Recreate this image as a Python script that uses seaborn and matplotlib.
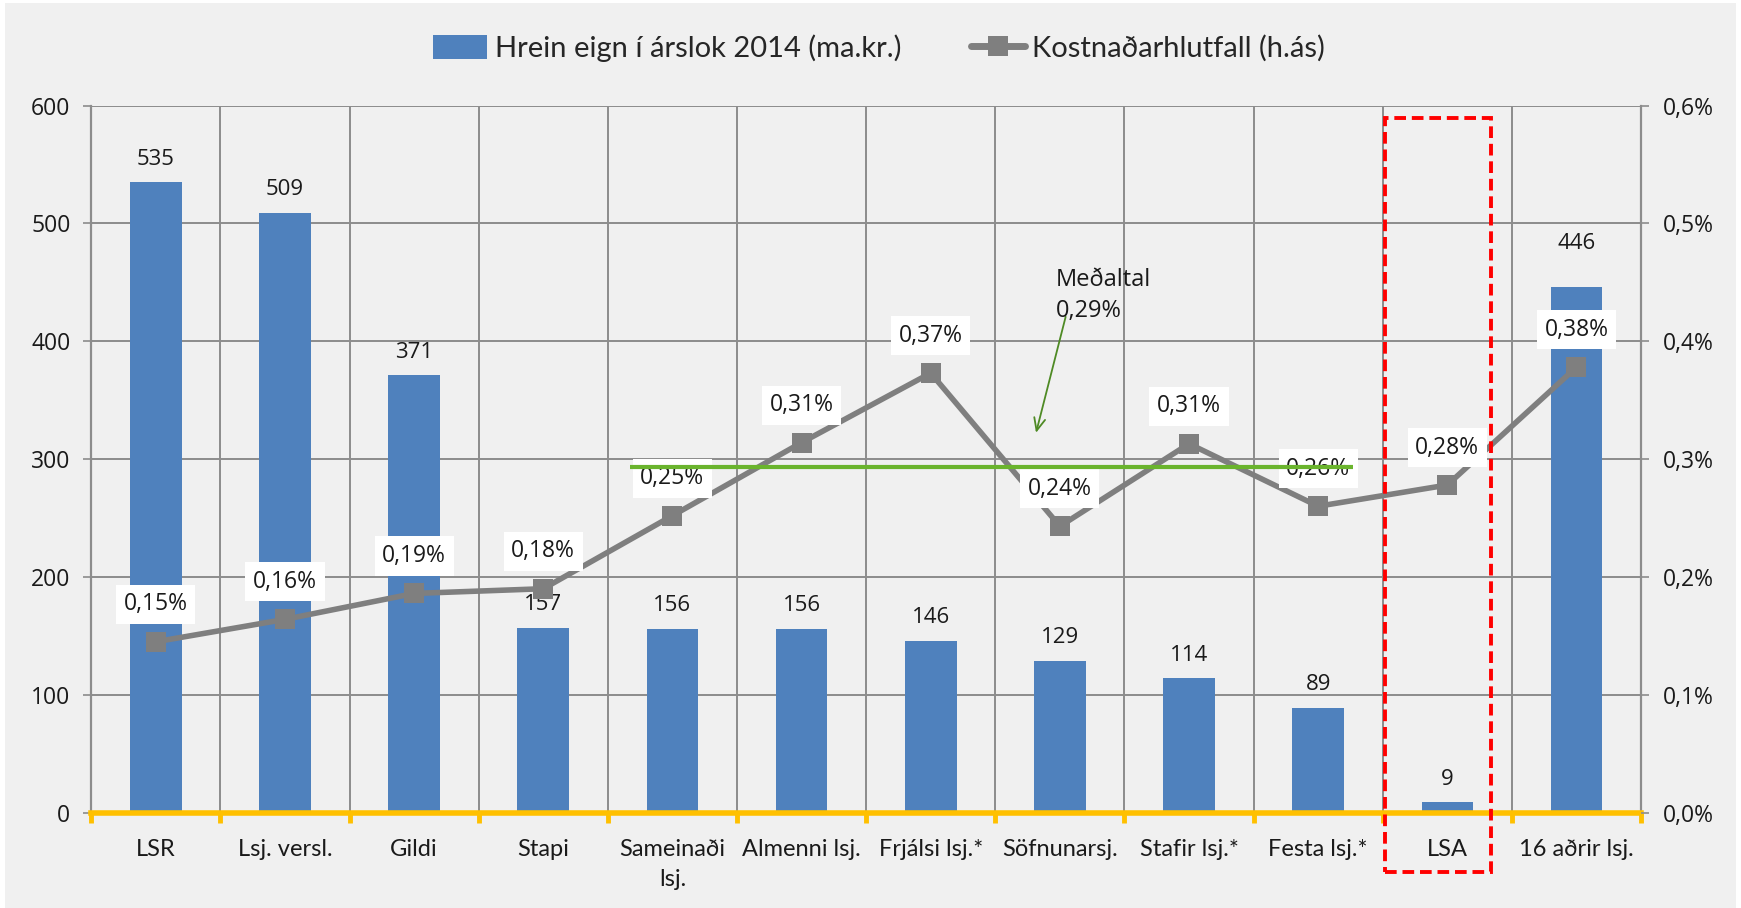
import numpy as np
import pandas as pd
import seaborn as sns
import matplotlib.pyplot as plt
from matplotlib.patches import Rectangle, Patch
from matplotlib.lines import Line2D

funds = ["LSR", "Lsj. versl.", "Gildi", "Stapi", "Sameinaði\nlsj.", "Almenni lsj.",
         "Frjálsi lsj.*", "Söfnunarsj.", "Stafir lsj.*", "Festa lsj.*", "LSA", "16 aðrir lsj."]
net_assets = [535, 509, 371, 157, 156, 156, 146, 129, 114, 89, 9, 446]
cost_ratio = [0.145, 0.164, 0.186, 0.190, 0.252, 0.314, 0.373, 0.243, 0.313, 0.260, 0.278, 0.378]
cost_labels = ["0,15%", "0,16%", "0,19%", "0,18%", "0,25%", "0,31%",
               "0,37%", "0,24%", "0,31%", "0,26%", "0,28%", "0,38%"]
average_ratio = 0.293
left_ticks = [0, 100, 200, 300, 400, 500, 600]
right_ticks = [0.0, 0.1, 0.2, 0.3, 0.4, 0.5, 0.6]
right_tick_labels = ["0,0%", "0,1%", "0,2%", "0,3%", "0,4%", "0,5%", "0,6%"]

BLUE = "#4F81BD"
GREY_LINE = "#7F7F7F"
GRID = "#8C8C8C"
YELLOW = "#FFC000"
GREEN = "#6AB42D"
BG = "#F0F0F0"
TXT = "#1A1A1A"
NUM_FONT = "Open Sans"

sns.set_style("white")
plt.rcParams["font.family"] = ["Open Sans", "DejaVu Sans"]

df = pd.DataFrame({"fund": funds, "assets": net_assets, "ratio": cost_ratio})
x = np.arange(len(funds))

fig = plt.figure(figsize=(17.41, 9.08), dpi=100, facecolor="white")
fig.patches.append(Rectangle((0.003, 0.0), 0.994, 0.997, transform=fig.transFigure,
                             facecolor=BG, edgecolor="none", zorder=-10))
ax = fig.add_axes([0.0524, 0.105, 0.8902, 0.7788])
ax.set_facecolor(BG)

sns.barplot(data=df, x="fund", y="assets", color=BLUE, saturation=1, width=0.4,
            linewidth=0, ax=ax, zorder=2)
bar_texts = ax.bar_label(ax.containers[0], labels=[str(v) for v in net_assets],
                         padding=9, fontsize=16, color=TXT, family=NUM_FONT)
# the last label sits higher so it clears the line label
bar_texts[-1].xyann = (0, 24)

ax.set_xlim(-0.5, len(funds) - 0.5)
ax.set_ylim(0, 600)
ax.set_yticks(left_ticks)
ax.set_yticklabels([str(t) for t in left_ticks], fontsize=16.5, color=TXT, family=NUM_FONT)
ax.set_xticks(x)
ax.set_xticklabels(funds, fontsize=17, family="Lato", color=TXT, linespacing=1.55)
ax.set_xticks(np.arange(-0.5, len(funds), 1), minor=True)
ax.tick_params(axis="x", which="major", bottom=False, length=0, pad=19)
ax.tick_params(axis="x", which="minor", bottom=True, length=7, width=3.5, color=YELLOW,
               direction="out")
ax.tick_params(axis="y", left=True, length=6, width=1.2, color=GRID, pad=9)
ax.set_xlabel("")
ax.set_ylabel("")
ax.grid(axis="y", color=GRID, linewidth=1.4, zorder=0)
ax.grid(axis="x", which="minor", color=GRID, linewidth=1.4, zorder=0)
ax.set_axisbelow(True)
for side in ["left", "right"]:
    ax.spines[side].set_color(GRID)
    ax.spines[side].set_linewidth(1.6)
ax.spines["top"].set_visible(False)
ax.spines["bottom"].set_color(YELLOW)
ax.spines["bottom"].set_linewidth(4)
ax.spines["bottom"].set_zorder(5)

ax2 = ax.twinx()
sns.lineplot(x=x, y=cost_ratio, ax=ax2, color=GREY_LINE, linewidth=4, marker="s",
             markersize=14, markeredgewidth=0, zorder=3)
ax2.set_ylim(0, 0.6)
ax2.set_yticks(right_ticks)
ax2.set_yticklabels(right_tick_labels, fontsize=16.5, color=TXT, family=NUM_FONT)
ax2.tick_params(axis="y", right=True, left=False, length=6, width=1.2, color=GRID, pad=10)
ax2.tick_params(axis="x", which="both", bottom=False)
for side in ["left", "right", "top", "bottom"]:
    ax2.spines[side].set_visible(False)

for xi, yi, lab in zip(x, cost_ratio, cost_labels):
    ax2.annotate(lab, (xi, yi), xytext=(0, 27), textcoords="offset points",
                 ha="center", va="center", fontsize=16.5, family=NUM_FONT, color=TXT,
                 zorder=4,
                 bbox=dict(boxstyle="square,pad=0.33", facecolor="white", edgecolor="none"))

# average line and its note
ax2.hlines(average_ratio, 3.67, 9.27, color=GREEN, linewidth=3, zorder=6)
ax2.annotate("", xy=(6.81, 0.320), xytext=(7.05, 0.423),
             arrowprops=dict(arrowstyle="->,head_length=0.9,head_width=0.4",
                             color="#4E8A24", linewidth=1.3), zorder=6)
ax2.text(6.97, 0.462, "Meðaltal\n0,29%", fontsize=17, family=NUM_FONT, color=TXT,
         va="top", ha="left", linespacing=1.4, zorder=6)

# LSA highlight box
ax2.add_patch(Rectangle((9.52, -50), 0.82, 639, transform=ax.transData, fill=False,
                        edgecolor="#FF0000", linestyle=(0, (3, 1.5)), linewidth=2.8,
                        clip_on=False, zorder=10))

handles = [Patch(facecolor=BLUE, edgecolor="none"),
           Line2D([0], [0], color=GREY_LINE, linewidth=5, marker="s", markersize=14,
                  markeredgewidth=0)]
fig.legend(handles, ["Hrein eign í árslok 2014 (ma.kr.)", "Kostnaðarhlutfall (h.ás)"],
           loc="center", bbox_to_anchor=(0.505, 0.947), ncol=2, frameon=False,
           prop={"family": "Lato", "size": 21}, handlelength=1.85, handleheight=0.9,
           handletextpad=0.25, columnspacing=2.4)

fig.savefig("out.png", dpi=100, facecolor=fig.get_facecolor())
